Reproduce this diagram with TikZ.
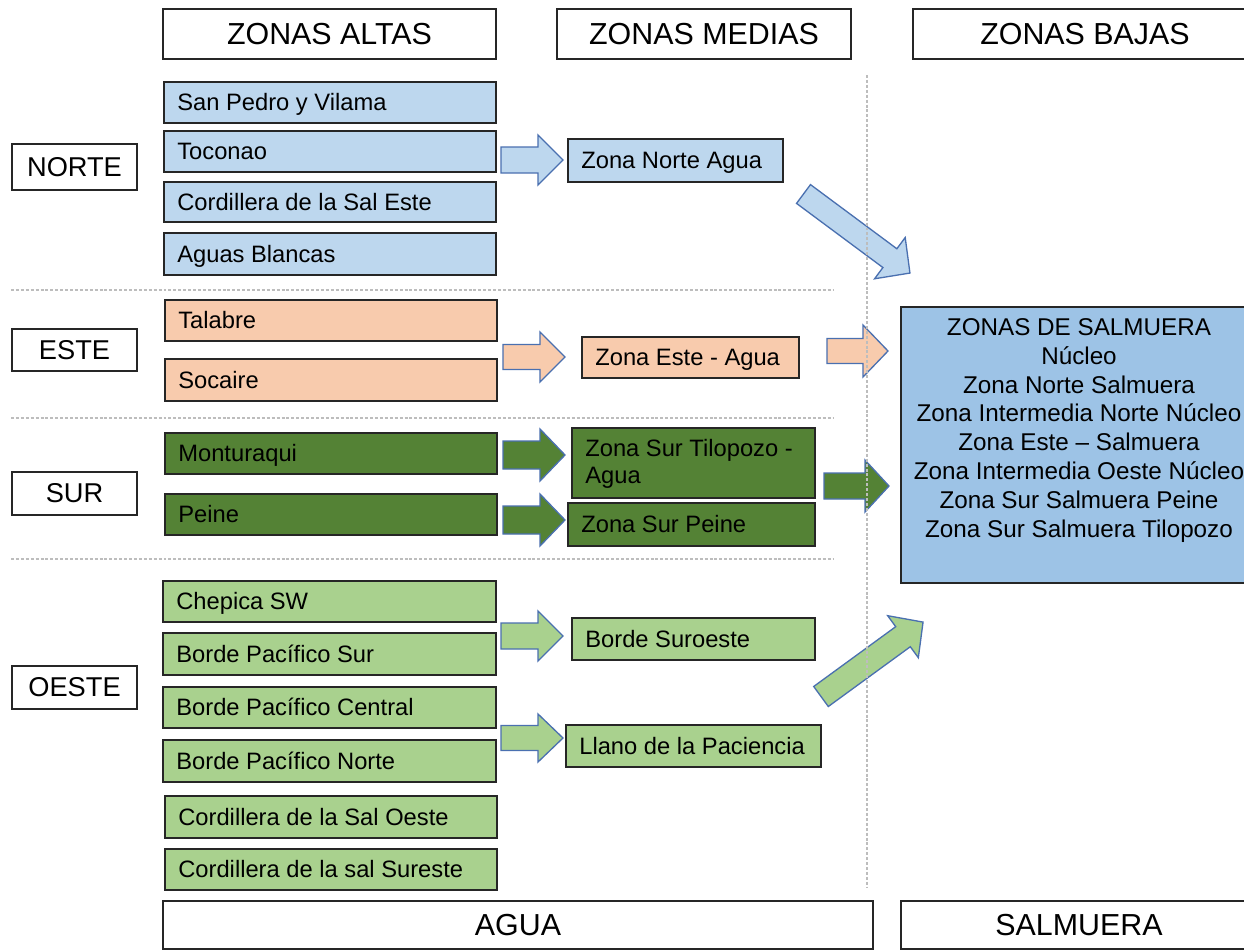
\documentclass[tikz,border=0pt]{standalone}
\usepackage{fontspec}
\setmainfont{Liberation Sans}
\usetikzlibrary{fit}

\definecolor{edge}{HTML}{262626}
\definecolor{norteblue}{HTML}{BDD7EE}
\definecolor{estepeach}{HTML}{F8CBAD}
\definecolor{surgreen}{HTML}{548235}
\definecolor{oestegreen}{HTML}{A9D18E}
\definecolor{brineblue}{HTML}{9DC3E6}
\definecolor{arrowline}{HTML}{4A70B0}
\definecolor{guide}{HTML}{BDBDBD}

\tikzset{
  cellbox/.style={draw=edge, line width=0.9pt, inner sep=0pt, outer sep=0pt},
  celllabel/.style={anchor=base west, inner sep=0pt, font=\fontsize{13.5}{15.3}\selectfont},
  headlabel/.style={inner sep=0pt, font=\fontsize{17.3}{20}\selectfont},
  zonelabel/.style={inner sep=0pt, font=\fontsize{15.5}{18}\selectfont},
  blockarrow/.style={draw=arrowline, line width=0.75pt, line join=miter},
  guideline/.style={draw=guide, line width=0.6pt, dash pattern=on 1.7pt off 1.1pt}
}

% box drawn from pixel corners: name, fill, x1, y1, x2, y2
\newcommand\cell[6]{\node[cellbox, fill=#2, fit={(#3,#4) (#5,#6)}] (#1) {};}
% left-aligned single label inside a box
\newcommand\celltext[2]{\node[celllabel] at ([xshift=0.26cm, yshift=-4.83pt]#1.west) {#2};}
% block arrow: fill, tail x, tail y, angle, length, shaft half, head half, head length
\newcommand\blockarrow[8]{%
  \draw[blockarrow, fill=#1, shift={(#2,#3)}, rotate=#4]
    (0,-#6) -- ({#5-#8},-#6) -- ({#5-#8},-#7) -- (#5,0) -- ({#5-#8},#7)
    -- ({#5-#8},#6) -- (0,#6) -- cycle;}

\begin{document}
\begin{tikzpicture}[x=0.02cm, y=-0.02cm]
\clip (0,0) rectangle (1244,950);
\fill[white] (0,0) rectangle (1244,950);

% column headers
\cell{altas}{white}{163}{9}{496}{59}
\node[headlabel] at (altas.center) {ZONAS ALTAS};
\cell{medias}{white}{557}{9}{851}{59}
\node[headlabel] at (medias.center) {ZONAS MEDIAS};
\cell{bajas}{white}{913}{9}{1257}{59}
\node[headlabel] at (bajas.center) {ZONAS BAJAS};

% row labels
\cell{norte}{white}{12}{144}{137}{190}
\node[zonelabel] at (norte.center) {NORTE};
\cell{este}{white}{12}{329}{137}{371}
\node[zonelabel] at (este.center) {ESTE};
\cell{sur}{white}{12}{472}{137}{515}
\node[zonelabel] at (sur.center) {SUR};
\cell{oeste}{white}{12}{666}{137}{709}
\node[zonelabel] at (oeste.center) {OESTE};

% NORTE, upper zones
\cell{sp}{norteblue}{164}{82}{496}{123}     \celltext{sp}{San Pedro y Vilama}
\cell{toc}{norteblue}{164}{131}{496}{172}   \celltext{toc}{Toconao}
\cell{cse}{norteblue}{164}{182}{496}{222}   \celltext{cse}{Cordillera de la Sal Este}
\cell{ab}{norteblue}{164}{233}{496}{275}    \celltext{ab}{Aguas Blancas}

% ESTE, upper zones
\cell{tal}{estepeach}{165}{300}{497}{341}   \celltext{tal}{Talabre}
\cell{soc}{estepeach}{165}{359}{497}{401}   \celltext{soc}{Socaire}

% SUR, upper zones
\cell{mon}{surgreen}{165}{433}{497}{474}    \celltext{mon}{Monturaqui}
\cell{pei}{surgreen}{165}{494}{497}{535}    \celltext{pei}{Peine}

% OESTE, upper zones
\cell{che}{oestegreen}{163}{581}{496}{622}  \celltext{che}{Chepica SW}
\cell{bps}{oestegreen}{163}{633}{496}{675}  \celltext{bps}{Borde Pacífico Sur}
\cell{bpc}{oestegreen}{163}{687}{496}{728}  \celltext{bpc}{Borde Pacífico Central}
\cell{bpn}{oestegreen}{163}{740}{496}{782}  \celltext{bpn}{Borde Pacífico Norte}
\cell{cso}{oestegreen}{165}{796}{497}{838}  \celltext{cso}{Cordillera de la Sal Oeste}
\cell{css}{oestegreen}{165}{849}{497}{890}  \celltext{css}{Cordillera de la sal Sureste}

% middle zones
\cell{zna}{norteblue}{568}{139}{783}{182}   \celltext{zna}{Zona Norte Agua}
\cell{zea}{estepeach}{582}{337}{799}{378}   \celltext{zea}{Zona Este - Agua}
\cell{zst}{surgreen}{572}{428}{815}{498}
\node[anchor=west, align=left, inner sep=0pt, font=\fontsize{13.5}{15.3}\selectfont]
  at ([xshift=0.26cm, yshift=-0.5pt]zst.west) {Zona Sur Tilopozo -\\Agua};
\cell{zsp}{surgreen}{568}{503}{815}{546}    \celltext{zsp}{Zona Sur Peine}
\cell{bso}{oestegreen}{572}{618}{815}{660}  \celltext{bso}{Borde Suroeste}
\cell{llp}{oestegreen}{566}{725}{821}{767}  \celltext{llp}{Llano de la Paciencia}

% brine zones
\cell{brine}{brineblue}{901}{307}{1257}{583}
\node[anchor=north, align=center, inner sep=0pt, font=\fontsize{13.8}{16.44}\selectfont]
  at (1079,318) {ZONAS DE SALMUERA\\Núcleo\\Zona Norte Salmuera\\Zona Intermedia Norte Núcleo\\Zona Este – Salmuera\\Zona Intermedia Oeste Núcleo\\Zona Sur Salmuera Peine\\Zona Sur Salmuera Tilopozo};

% footers
\cell{agua}{white}{163}{901}{873}{949}
\node[headlabel] at (agua.center) {AGUA};
\cell{salm}{white}{901}{901}{1257}{949}
\node[headlabel] at (salm.center) {SALMUERA};

% block arrows from upper to middle zones
\blockarrow{norteblue}{501}{160}{0}{62}{13}{25}{25}
\blockarrow{estepeach}{503}{357}{0}{62}{12.5}{25}{25}
\blockarrow{surgreen}{503}{455}{0}{62}{14}{26}{25}
\blockarrow{surgreen}{503}{520}{0}{62}{14}{26}{25}
\blockarrow{oestegreen}{501}{636}{0}{62}{13}{25}{25}
\blockarrow{oestegreen}{501}{738}{0}{62}{12.5}{24}{25}

% block arrows from middle zones to the brine zones
\blockarrow{norteblue}{803.5}{194}{-36.6}{132.6}{11.7}{25.7}{25}
\blockarrow{estepeach}{827}{351}{0}{61}{12.5}{26}{25}
\blockarrow{surgreen}{824}{486}{0}{65}{13}{26}{24}
\blockarrow{oestegreen}{821}{696.5}{36.1}{126.3}{12.4}{26}{24.8}

% dashed guides between regions and columns
\draw[guideline] (11,290) -- (833,290);
\draw[guideline] (11,418) -- (833,418);
\draw[guideline] (11,559) -- (833,559);
\draw[guideline] (867,75) -- (867,888);
\end{tikzpicture}
\end{document}
